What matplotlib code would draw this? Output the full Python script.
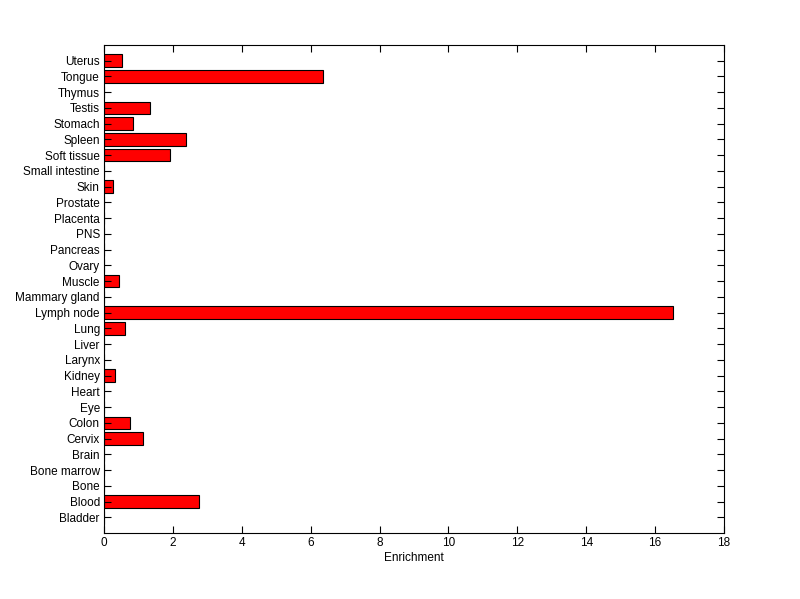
import matplotlib
matplotlib.use('Agg')
import matplotlib.pyplot as plt
import numpy as np

plt.rcParams['font.family'] = ['Liberation Sans', 'DejaVu Sans']

# Tissues, bottom to top
tissues = ['Bladder', 'Blood', 'Bone', 'Bone marrow', 'Brain', 'Cervix', 'Colon',
           'Eye', 'Heart', 'Kidney', 'Larynx', 'Liver', 'Lung', 'Lymph node',
           'Mammary gland', 'Muscle', 'Ovary', 'Pancreas', 'PNS', 'Placenta',
           'Prostate', 'Skin', 'Small intestine', 'Soft tissue', 'Spleen',
           'Stomach', 'Testis', 'Thymus', 'Tongue', 'Uterus']
enrichment = [0, 2.77, 0, 0, 0, 1.12, 0.76,
              0, 0, 0.32, 0, 0, 0.61, 16.52,
              0, 0.44, 0, 0, 0, 0,
              0, 0.27, 0, 1.92, 2.39,
              0.85, 1.34, 0, 6.37, 0.51]

ypos = np.arange(1, len(tissues) + 1)

fig = plt.figure(figsize=(8, 5.99), dpi=100)
ax = fig.add_axes([0.13, 0.11, 0.775, 0.815])
ax.barh(ypos, enrichment, height=0.8, color='red', edgecolor='black', linewidth=0.8)

ax.set_xlim(0, 18)
ax.set_ylim(0, len(tissues) + 1)
ax.set_xticks(np.arange(0, 19, 2))
ax.set_yticks(ypos)
ax.set_yticklabels(tissues)
ax.set_xlabel('Enrichment', fontsize=8.5, labelpad=2)
ax.tick_params(direction='in', top=True, right=True, length=5, width=0.8,
               labelsize=8.5, pad=3)
for s in ax.spines.values():
    s.set_linewidth(0.8)

fig.savefig('out.png', dpi=100, facecolor='white')
